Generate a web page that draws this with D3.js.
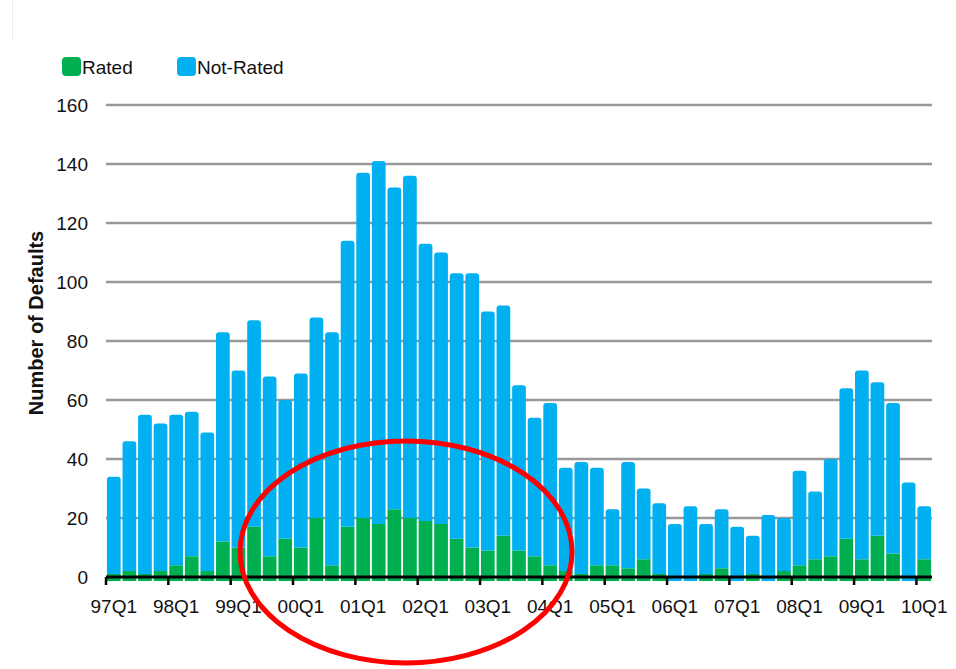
<!DOCTYPE html>
<html>
<head>
<meta charset="utf-8">
<script src="https://cdn.jsdelivr.net/npm/d3@7"></script>
<style>
  html, body { margin: 0; padding: 0; background: #fff; }
  svg { display: block; font-family: "Liberation Sans", Arial, sans-serif; }
</style>
</head>
<body>
<svg id="chart" width="956" height="669"></svg>
<script>
// Quarterly default counts, 1997Q1 – 2010Q1
const years = ["97","98","99","00","01","02","03","04","05","06","07","08","09","10"];
const quarterNames = ["Q1","Q2","Q3","Q4"];
const categories = [];
years.forEach(y => quarterNames.forEach(q => categories.push(y + q)));
categories.splice(53); // series ends at 10Q1

const rated = [
  1, 2, 1, 2, 4, 7, 2, 12, 10, 17, 7, 13, 10, 20, 4, 17,
  20, 18, 23, 20, 19, 18, 13, 10, 9, 14, 9, 7, 4, 2, 1, 4,
  4, 3, 6, 1, 0, 0, 1, 3, 0, 1, 0, 2, 4, 6, 7, 13,
  6, 14, 8, 0, 6
];
const notRated = [
  33, 44, 54, 50, 51, 49, 47, 71, 60, 70, 61, 47, 59, 68, 79, 97,
  117, 123, 109, 116, 94, 92, 90, 93, 81, 78, 56, 47, 55, 35, 38, 33,
  19, 36, 24, 24, 18, 24, 17, 20, 17, 13, 21, 18, 32, 23, 33, 51,
  64, 52, 51, 32, 18
];
const seriesNames = ["Rated", "Not-Rated"];
const seriesColors = ["#00B050", "#00B0F0"];
const yTicks = [0, 20, 40, 60, 80, 100, 120, 140, 160];
const xTickLabels = categories.filter(c => c.endsWith("Q1"));

const svg = d3.select("#chart");
const plotLeft = 106, plotRight = 932, plotTop = 105, plotBottom = 577;

const x = d3.scaleBand().domain(categories).range([plotLeft, plotRight])
  .paddingInner(0.12).paddingOuter(0.06);
const xEdge = d3.scaleLinear().domain([0, categories.length]).range([plotLeft, plotRight]);
const y = d3.scaleLinear().domain([0, 160]).range([plotBottom, plotTop]);

// faint frame edge at top-left
svg.append("line").attr("x1", 12.5).attr("x2", 12.5).attr("y1", 0).attr("y2", 40)
  .attr("stroke", "#ececec").attr("stroke-width", 1);

// gridlines
svg.append("g").selectAll("line").data(yTicks.filter(t => t > 0)).join("line")
  .attr("x1", plotLeft).attr("x2", plotRight)
  .attr("y1", d => y(d)).attr("y2", d => y(d))
  .attr("stroke", "#999").attr("stroke-width", 2.6);

// y tick labels
svg.append("g").selectAll("text").data(yTicks).join("text")
  .attr("x", 88).attr("y", d => y(d)).attr("dy", "0.35em")
  .attr("text-anchor", "end").attr("font-size", 19).attr("fill", "#111")
  .text(d => d);

// y axis title
svg.append("text")
  .attr("transform", `translate(43,323) rotate(-90)`)
  .attr("text-anchor", "middle").attr("font-size", 20).attr("font-weight", "bold")
  .attr("fill", "#111").text("Number of Defaults");

// stacked bars
const stackData = categories.map((c, i) => ({ cat: c, Rated: rated[i], "Not-Rated": notRated[i] }));
const stacked = d3.stack().keys(seriesNames)(stackData);
const base = 4; // bars run slightly under the axis line
const bw = x.bandwidth();

function barPath(x0, y0, y1, r) {
  // rect from y1 (top) to y0 (bottom) with rounded top corners
  const h = y0 - y1;
  r = Math.min(r, h / 2, bw / 2);
  return `M${x0},${y0}V${y1 + r}Q${x0},${y1} ${x0 + r},${y1}H${x0 + bw - r}Q${x0 + bw},${y1} ${x0 + bw},${y1 + r}V${y0}Z`;
}

stacked.forEach((layer, li) => {
  svg.append("g").selectAll("path").data(layer).join("path")
    .attr("fill", seriesColors[li])
    .attr("d", d => {
      if (d[1] - d[0] <= 0) return "";
      const y0 = d[0] === 0 ? y(0) + base : y(d[0]);
      const y1 = y(d[1]);
      return barPath(x(d.data.cat), y0, y1, li === 1 ? 3 : 0);
    });
});

// x axis line and ticks
svg.append("line").attr("x1", plotLeft).attr("x2", plotRight)
  .attr("y1", y(0)).attr("y2", y(0))
  .attr("stroke", "#000").attr("stroke-width", 3);
const tickIdx = d3.range(0, categories.length, 4);
svg.append("g").selectAll("line").data(tickIdx).join("line")
  .attr("x1", d => xEdge(d)).attr("x2", d => xEdge(d))
  .attr("y1", y(0)).attr("y2", y(0) + 8)
  .attr("stroke", "#000").attr("stroke-width", 2.5);

// x tick labels
const xAxis = d3.axisBottom(x).tickValues(xTickLabels).tickSize(0).tickPadding(0);
const gx = svg.append("g").attr("transform", `translate(0,${y(0)})`).call(xAxis);
gx.select(".domain").remove();
gx.selectAll("text").attr("font-size", 19).attr("fill", "#111")
  .attr("font-family", "Liberation Sans, Arial, sans-serif")
  .attr("y", 23).attr("dy", "0.71em");

// legend
const legend = svg.append("g");
const legendX = [62, 177];
seriesNames.forEach((name, i) => {
  const g = legend.append("g").attr("transform", `translate(${legendX[i]},57)`);
  g.append("rect").attr("width", 19).attr("height", 19).attr("rx", 4)
    .attr("fill", seriesColors[i]);
  g.append("text").attr("x", 20).attr("y", 17).attr("font-size", 19)
    .attr("fill", "#111").text(name);
});

// highlight ring around the 2000–2003 rated defaults
svg.append("ellipse")
  .attr("cx", xEdge(19.25)).attr("cy", y(8.5))
  .attr("rx", 166).attr("ry", 111)
  .attr("fill", "none").attr("stroke", "#FF0000").attr("stroke-width", 5);
</script>
</body>
</html>
